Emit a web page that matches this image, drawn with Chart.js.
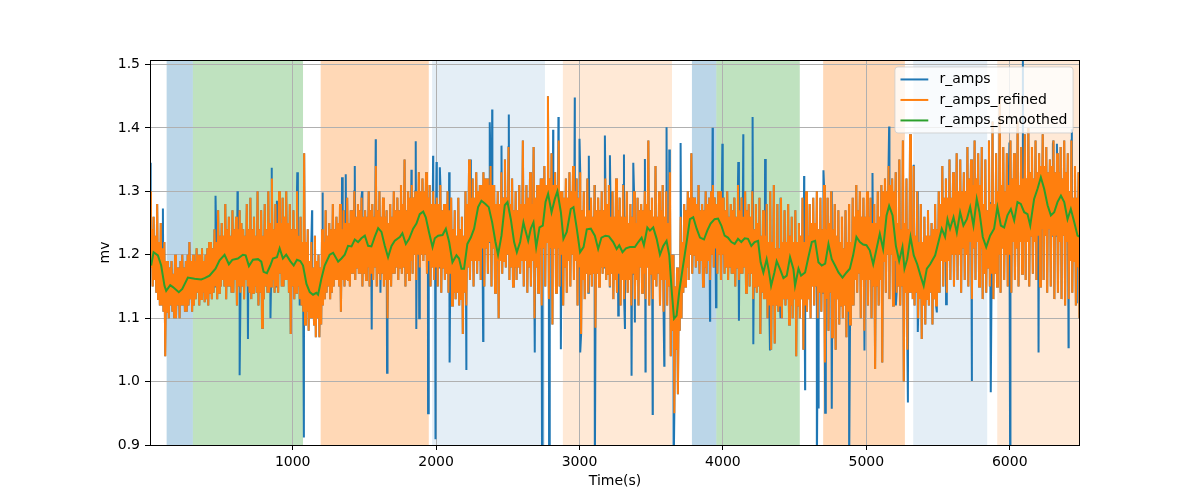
<!DOCTYPE html>
<html>
<head>
<meta charset="utf-8">
<script src="https://cdn.jsdelivr.net/npm/chart.js@4.4.0/dist/chart.umd.min.js"></script>
<style>
  html, body { margin: 0; padding: 0; background: #fff; }
</style>
</head>
<body>
<canvas id="myChart" width="1200" height="500"></canvas>
<script>
// ---- data ----
const xMin = 5, xMax = 6490;
const yMin = 0.9, yMax = 1.507;
const xTickValues = [1000, 2000, 3000, 4000, 5000, 6000];
const yTickValues = [0.9, 1.0, 1.1, 1.2, 1.3, 1.4, 1.5];

// r_amps_refined: a peak every 12.5 s starting at t=5, a trough 6.25 s after each peak
// (one row = 100 s)
const refinedStart = 5, refinedStep = 12.5;
const refinedPeaks = [
  1.30,1.24,1.26,1.23,1.28,1.22,1.25,1.21,
  1.22,1.19,1.19,1.18,1.19,1.17,1.20,1.18,
  1.18,1.19,1.20,1.18,1.19,1.20,1.22,1.19,
  1.20,1.19,1.21,1.20,1.20,1.21,1.19,1.20,
  1.21,1.22,1.22,1.21,1.24,1.22,1.27,1.23,
  1.25,1.23,1.28,1.24,1.26,1.23,1.27,1.24,
  1.26,1.24,1.27,1.25,1.24,1.23,1.28,1.24,
  1.29,1.24,1.26,1.23,1.30,1.24,1.27,1.23,
  1.28,1.24,1.30,1.25,1.32,1.24,1.28,1.25,
  1.30,1.25,1.29,1.26,1.30,1.25,1.28,1.24,
  1.27,1.24,1.30,1.23,1.26,1.22,1.36,1.22,
  1.24,1.19,1.22,1.18,1.23,1.19,1.20,1.18,
  1.24,1.22,1.27,1.23,1.25,1.24,1.28,1.24,
  1.26,1.25,1.28,1.24,1.27,1.25,1.29,1.25,
  1.27,1.27,1.30,1.26,1.28,1.27,1.29,1.26,
  1.27,1.26,1.30,1.27,1.28,1.26,1.34,1.27,
  1.30,1.26,1.29,1.26,1.27,1.25,1.28,1.26,
  1.30,1.27,1.29,1.27,1.31,1.28,1.35,1.27,
  1.30,1.29,1.31,1.29,1.30,1.30,1.33,1.30,
  1.32,1.30,1.33,1.29,1.31,1.28,1.30,1.28,
  1.29,1.28,1.31,1.27,1.28,1.28,1.30,1.27,
  1.29,1.24,1.27,1.23,1.29,1.24,1.26,1.23,
  1.30,1.28,1.35,1.29,1.32,1.29,1.33,1.30,
  1.31,1.31,1.33,1.32,1.32,1.31,1.34,1.31,
  1.31,1.28,1.30,1.28,1.33,1.29,1.35,1.29,
  1.37,1.28,1.32,1.27,1.30,1.27,1.31,1.28,
  1.38,1.28,1.31,1.29,1.33,1.28,1.37,1.29,
  1.31,1.31,1.32,1.32,1.34,1.31,1.45,1.32,
  1.36,1.31,1.33,1.31,1.38,1.30,1.30,1.29,
  1.32,1.29,1.33,1.30,1.34,1.30,1.32,1.29,
  1.33,1.27,1.30,1.26,1.32,1.27,1.29,1.26,
  1.31,1.27,1.29,1.27,1.30,1.27,1.32,1.28,
  1.31,1.26,1.30,1.26,1.32,1.27,1.29,1.26,
  1.31,1.26,1.30,1.25,1.28,1.26,1.30,1.25,
  1.29,1.27,1.28,1.27,1.30,1.28,1.38,1.27,
  1.29,1.26,1.34,1.26,1.30,1.27,1.31,1.26,
  1.30,1.25,1.33,1.20,1.20,1.15,1.18,1.16,
  1.26,1.22,1.28,1.27,1.30,1.29,1.36,1.29,
  1.29,1.28,1.31,1.27,1.28,1.27,1.30,1.28,
  1.29,1.30,1.31,1.29,1.28,1.30,1.30,1.29,
  1.29,1.27,1.30,1.26,1.28,1.27,1.29,1.26,
  1.31,1.27,1.29,1.26,1.30,1.27,1.28,1.26,
  1.30,1.24,1.28,1.25,1.29,1.23,1.27,1.23,
  1.28,1.22,1.30,1.22,1.31,1.21,1.28,1.21,
  1.29,1.22,1.27,1.22,1.28,1.23,1.26,1.22,
  1.27,1.22,1.25,1.23,1.29,1.22,1.30,1.23,
  1.28,1.25,1.29,1.25,1.30,1.24,1.29,1.24,
  1.31,1.24,1.29,1.25,1.30,1.24,1.28,1.23,
  1.27,1.22,1.26,1.21,1.27,1.22,1.28,1.22,
  1.29,1.26,1.31,1.27,1.30,1.26,1.29,1.26,
  1.30,1.26,1.29,1.25,1.28,1.25,1.30,1.26,
  1.31,1.30,1.32,1.30,1.34,1.31,1.32,1.30,
  1.33,1.25,1.35,1.24,1.38,1.25,1.32,1.24,
  1.39,1.23,1.34,1.23,1.30,1.22,1.28,1.22,
  1.26,1.23,1.27,1.23,1.25,1.24,1.28,1.24,
  1.30,1.28,1.34,1.29,1.32,1.29,1.35,1.29,
  1.33,1.30,1.36,1.30,1.35,1.30,1.33,1.30,
  1.37,1.32,1.35,1.31,1.38,1.32,1.36,1.31,
  1.37,1.28,1.35,1.27,1.38,1.28,1.41,1.28,
  1.36,1.30,1.45,1.31,1.37,1.30,1.36,1.31,
  1.38,1.32,1.36,1.32,1.41,1.31,1.37,1.32,
  1.39,1.32,1.40,1.33,1.37,1.32,1.38,1.33,
  1.36,1.34,1.39,1.34,1.37,1.33,1.35,1.34,
  1.38,1.33,1.36,1.33,1.37,1.32,1.38,1.33,
  1.36,1.30,1.38,1.29,1.34,1.29,1.33,1.28
];
const refinedTroughs = [
  1.18,1.15,1.16,1.14,1.13,1.12,1.12,1.11,
  1.04,1.11,1.10,1.12,1.11,1.10,1.10,1.12,
  1.10,1.12,1.12,1.11,1.11,1.12,1.13,1.11,
  1.12,1.13,1.14,1.12,1.13,1.14,1.125,1.13,
  1.12,1.14,1.13,1.14,1.15,1.13,1.14,1.15,
  1.16,1.15,1.13,1.15,1.15,1.14,1.14,1.16,
  1.12,1.15,1.14,1.15,1.13,1.16,1.15,1.14,
  1.13,1.14,1.15,1.14,1.12,1.14,1.085,1.13,
  1.15,1.14,1.14,1.15,1.16,1.14,1.15,1.14,
  1.17,1.15,1.15,1.16,1.16,1.14,1.075,1.15,
  1.13,1.14,1.15,1.13,1.12,1.11,1.09,1.11,
  1.08,1.10,1.10,1.09,1.07,1.10,1.07,1.09,
  1.12,1.13,1.14,1.15,1.13,1.14,1.15,1.16,
  1.16,1.15,1.11,1.16,1.15,1.16,1.16,1.15,
  1.17,1.17,1.16,1.18,1.17,1.17,1.15,1.17,
  1.16,1.18,1.15,1.17,1.16,1.18,1.15,1.17,
  1.16,1.17,1.15,1.16,1.10,1.16,1.15,1.17,
  1.17,1.18,1.16,1.18,1.17,1.18,1.15,1.17,
  1.16,1.19,1.17,1.20,1.16,1.20,1.18,1.20,
  1.19,1.20,1.17,1.19,1.15,1.18,1.16,1.18,
  1.15,1.18,1.14,1.18,1.16,1.17,1.14,1.17,
  1.12,1.14,1.13,1.14,1.12,1.13,1.075,1.14,
  1.12,1.18,1.16,1.19,1.15,1.19,1.17,1.19,
  1.16,1.21,1.15,1.21,1.17,1.22,1.15,1.21,
  1.14,1.19,1.10,1.19,1.17,1.19,1.18,1.20,
  1.16,1.18,1.15,1.18,1.16,1.18,1.17,1.19,
  1.15,1.19,1.14,1.18,1.15,1.19,1.10,1.18,
  1.14,1.21,1.12,1.21,1.15,1.22,1.13,1.21,
  1.09,1.21,1.14,1.21,1.15,1.20,1.12,1.18,
  1.14,1.19,1.15,1.20,1.16,1.19,1.12,1.18,
  1.075,1.16,1.13,1.17,1.14,1.17,1.15,1.17,
  1.085,1.17,1.15,1.18,1.17,1.18,1.16,1.17,
  1.15,1.17,1.13,1.16,1.14,1.17,1.12,1.16,
  1.13,1.16,1.14,1.16,1.12,1.17,1.13,1.16,
  1.12,1.18,1.14,1.17,1.13,1.18,1.12,1.17,
  1.13,1.16,1.15,1.17,1.12,1.16,1.11,1.16,
  1.12,1.15,1.04,1.08,0.95,1.05,0.98,1.08,
  1.10,1.14,1.15,1.18,1.16,1.20,1.17,1.20,
  1.18,1.19,1.17,1.19,1.15,1.18,1.17,1.19,
  1.16,1.20,1.18,1.21,1.17,1.20,1.16,1.20,
  1.17,1.18,1.16,1.18,1.17,1.17,1.15,1.18,
  1.16,1.17,1.17,1.18,1.14,1.17,1.15,1.17,
  1.13,1.15,1.14,1.15,1.075,1.14,1.13,1.13,
  1.10,1.12,1.05,1.12,1.06,1.12,1.11,1.12,
  1.10,1.13,1.12,1.13,1.09,1.12,1.10,1.13,
  1.04,1.12,1.10,1.13,1.05,1.12,1.11,1.13,
  1.10,1.15,1.12,1.15,1.10,1.14,1.11,1.14,
  1.03,1.13,1.08,1.14,1.07,1.13,1.05,1.13,
  1.09,1.12,1.10,1.12,1.07,1.11,1.09,1.12,
  1.12,1.16,1.14,1.17,1.10,1.16,1.08,1.16,
  1.12,1.16,1.10,1.15,1.02,1.15,1.12,1.16,
  1.03,1.19,1.14,1.20,1.13,1.20,1.12,1.19,
  1.14,1.15,1.12,1.15,1.00,1.14,1.05,1.14,
  1.14,1.13,1.12,1.14,1.10,1.13,1.067,1.12,
  1.09,1.13,1.12,1.14,1.09,1.13,1.12,1.14,
  1.14,1.19,1.15,1.19,1.14,1.19,1.16,1.20,
  1.15,1.20,1.16,1.20,1.14,1.21,1.16,1.20,
  1.15,1.22,1.13,1.21,1.16,1.22,1.15,1.21,
  1.13,1.17,1.14,1.18,1.15,1.17,1.13,1.17,
  1.15,1.20,1.14,1.21,1.16,1.20,1.15,1.20,
  1.14,1.22,1.16,1.21,1.15,1.22,1.17,1.22,
  1.16,1.22,1.15,1.23,1.17,1.22,1.16,1.23,
  1.15,1.24,1.16,1.23,1.14,1.24,1.15,1.23,
  1.13,1.23,1.14,1.22,1.13,1.23,1.12,1.22,
  1.13,1.19,1.14,1.19,1.12,1.18,1.10,1.18
];

// r_amps: same as refined, plus the outliers that refining removed
const outlierTimes = [
  8, 95, 462, 615, 630, 688, 845, 853, 890, 1032, 1049, 1078,
  1135, 1207, 1344, 1370, 1433, 1484, 1551, 1579, 1612, 1658, 1828, 1858,
  1862, 1882, 1944, 1979, 1993, 2003, 2026, 2091, 2096, 2211, 2242, 2328,
  2374, 2391, 2456, 2507, 2688, 2739, 2788, 2816, 2853, 2870, 2967, 3000,
  3005, 3065, 3107, 3177, 3212, 3270, 3310, 3317, 3363, 3375, 3386, 3456,
  3460, 3510, 3591, 3607, 3626, 3656, 3705, 3910, 3928, 3952, 3996, 4107,
  4112, 4142, 4207, 4212, 4294, 4328, 4399, 4566, 4573, 4655, 4666, 4701,
  4713, 4759, 4880, 4987, 5043, 5159, 5206, 5290, 5331, 5359, 5491, 5556,
  5736, 5747, 5863, 5868, 5998, 6003, 6091, 6201, 6301, 6329, 6410, 6433, 6464
];
const outlierValues = [
  1.345, 1.273, 1.293, 1.30, 1.01, 1.067, 1.10, 1.337, 1.285, 1.33, 1.12, 0.912,
  1.27, 1.298, 1.322, 1.327, 1.34, 1.30, 1.082, 1.382, 1.14, 1.014, 1.334, 1.379,
  1.083, 1.10, 0.95, 1.356, 0.909, 1.346, 1.338, 1.33, 1.03, 1.02, 1.35, 1.064,
  1.409, 1.429, 1.372, 1.421, 1.046, 0.85, 0.85, 1.397, 1.417, 1.051, 1.448, 1.383,
  1.046, 1.356, 0.85, 1.388, 1.357, 1.104, 1.358, 1.083, 1.009, 1.345, 1.093, 1.351,
  1.016, 0.949, 1.025, 1.401, 1.366, 0.85, 1.376, 1.096, 1.40, 1.117, 1.375, 1.346,
  1.096, 1.39, 1.417, 1.059, 1.351, 1.049, 1.10, 1.324, 0.988, 0.85, 0.959, 1.333,
  0.951, 0.957, 0.85, 1.049, 1.329, 1.402, 1.12, 0.967, 1.342, 1.078, 1.109, 1.122,
  1.001, 1.293, 1.283, 0.983, 1.377, 0.85, 1.55, 1.046, 1.375, 1.375, 1.054, 1.398, 1.125
];

// r_amps_smoothed
const smoothTimes = [
  13, 30, 60, 83, 106, 118, 146, 165, 206, 230, 269, 316, 362, 386, 420, 462, 490, 525, 555, 579,
  618, 653, 672, 695, 723, 758, 781, 797, 820, 844, 862, 890, 909, 932, 955, 983, 1007, 1030, 1053,
  1072, 1096, 1119, 1142, 1165, 1177, 1200, 1223, 1258, 1282, 1317, 1340, 1363, 1386, 1410, 1433,
  1456, 1479, 1503, 1526, 1549, 1572, 1596, 1619, 1642, 1665, 1689, 1712, 1747, 1765, 1789, 1812,
  1840, 1863, 1886, 1910, 1928, 1951, 1975, 1991, 2014, 2045, 2068, 2091, 2114,
  2142, 2160, 2177, 2195, 2218, 2242, 2265, 2293, 2316, 2344, 2367, 2391, 2414, 2432, 2456, 2479,
  2498, 2521, 2544, 2563, 2586, 2609, 2623, 2642, 2660, 2679, 2698, 2721, 2744, 2763, 2781, 2805,
  2828, 2846, 2870, 2888, 2911, 2939, 2958, 2981, 3004, 3028, 3051, 3079, 3107, 3130, 3153, 3181, 3205,
  3235, 3259, 3277, 3300, 3324, 3352, 3386, 3410, 3433, 3449, 3473, 3491, 3514, 3538, 3561, 3584,
  3607, 3626, 3642, 3659, 3677, 3696, 3719, 3747, 3770, 3793, 3817, 3840, 3868, 3891, 3914, 3942,
  3966, 3989, 4012, 4035, 4059, 4082, 4105, 4128, 4152, 4175, 4198, 4221, 4245, 4263, 4282,
  4305, 4320, 4336, 4359, 4375, 4399, 4422, 4445, 4468, 4492, 4503, 4527, 4545, 4573, 4596, 4620,
  4643, 4666, 4689, 4713, 4736, 4759, 4782, 4806, 4834, 4862, 4885, 4908, 4931, 4955, 4978, 5001,
  5024, 5048, 5071, 5094, 5117, 5141, 5159, 5183, 5206, 5229, 5252, 5266, 5285, 5308, 5331, 5355,
  5378, 5400, 5422, 5445, 5480, 5503, 5526, 5549, 5566, 5584, 5608, 5631, 5654, 5677, 5701, 5724,
  5747, 5770, 5789, 5812, 5836, 5863, 5891, 5914, 5938, 5961, 5984, 6008, 6031, 6054, 6077, 6101,
  6124, 6143, 6170, 6194, 6217, 6240, 6264, 6287, 6310, 6333, 6357, 6380, 6403, 6426, 6450, 6473, 6490
];
const smoothValues = [
  1.183, 1.204, 1.199, 1.183, 1.151, 1.143, 1.152, 1.149, 1.141, 1.146, 1.164, 1.162, 1.161, 1.163, 1.167, 1.178, 1.191, 1.200, 1.185, 1.192,
  1.194, 1.200, 1.199, 1.182, 1.192, 1.193, 1.189, 1.173, 1.171, 1.183, 1.194, 1.196, 1.210, 1.194, 1.200, 1.190, 1.183, 1.192, 1.190,
  1.183, 1.154, 1.141, 1.137, 1.140, 1.137, 1.162, 1.183, 1.200, 1.203, 1.189, 1.194, 1.200, 1.214, 1.213, 1.224,
  1.220, 1.226, 1.230, 1.214, 1.213, 1.228, 1.242, 1.236, 1.214, 1.196, 1.214, 1.222, 1.228, 1.234, 1.217, 1.225,
  1.241, 1.249, 1.264, 1.268, 1.259, 1.235, 1.212, 1.226, 1.230, 1.231, 1.241, 1.220, 1.188,
  1.199, 1.194, 1.178, 1.178, 1.217, 1.227, 1.241, 1.275, 1.285, 1.280, 1.275, 1.251, 1.220, 1.200, 1.230, 1.278,
  1.283, 1.256, 1.220, 1.204, 1.220, 1.251, 1.238, 1.222, 1.241, 1.251, 1.212, 1.243, 1.246, 1.283, 1.296, 1.267,
  1.288, 1.300, 1.267, 1.225, 1.236, 1.272, 1.275, 1.241, 1.204, 1.212, 1.240, 1.241, 1.230, 1.209, 1.227, 1.230, 1.229,
  1.220, 1.209, 1.215, 1.204, 1.210, 1.212, 1.212, 1.220, 1.227, 1.215, 1.243, 1.238, 1.243, 1.225, 1.200, 1.214,
  1.222, 1.199, 1.146, 1.099, 1.104, 1.143, 1.178, 1.220, 1.256, 1.259, 1.241, 1.227, 1.224, 1.238, 1.249, 1.256,
  1.257, 1.246, 1.230, 1.227, 1.220, 1.217, 1.225, 1.220, 1.226, 1.225, 1.214, 1.220, 1.222, 1.188, 1.172,
  1.193, 1.175, 1.151, 1.172, 1.190, 1.177, 1.163, 1.167, 1.196, 1.177, 1.151, 1.178, 1.167, 1.172, 1.196, 1.220,
  1.222, 1.188, 1.183, 1.186, 1.217, 1.193, 1.183, 1.172, 1.164, 1.172, 1.178, 1.199, 1.228, 1.220, 1.216, 1.215,
  1.207, 1.185, 1.209, 1.233, 1.209, 1.262, 1.277, 1.262, 1.214, 1.190, 1.212, 1.178, 1.193, 1.228, 1.199, 1.185,
  1.167, 1.151, 1.178, 1.185, 1.199, 1.220, 1.241, 1.228, 1.256, 1.241, 1.259, 1.235, 1.267, 1.246, 1.256, 1.275,
  1.246, 1.288, 1.267, 1.228, 1.212, 1.230, 1.241, 1.275, 1.246, 1.243, 1.262, 1.272, 1.254, 1.283, 1.280, 1.267,
  1.264, 1.246, 1.288, 1.304, 1.322, 1.304, 1.278, 1.262, 1.267, 1.283, 1.293, 1.283, 1.256, 1.272, 1.251, 1.230, 1.228
];

// shaded time windows
const spanStarts = [121, 304, 1195, 1972, 2884, 3784, 3954, 4699, 5327, 5913];
const spanEnds   = [304, 1072, 1949, 2759, 3645, 3954, 4536, 5269, 5843, 6490];
const spanColors = [
  'rgba(31,119,180,0.3)', 'rgba(44,160,44,0.3)', 'rgba(255,127,14,0.3)',
  'rgba(31,119,180,0.12)', 'rgba(255,127,14,0.17)',
  'rgba(31,119,180,0.3)', 'rgba(44,160,44,0.3)', 'rgba(255,127,14,0.3)',
  'rgba(31,119,180,0.12)', 'rgba(255,127,14,0.17)'
];

const seriesNames = ['r_amps', 'r_amps_refined', 'r_amps_smoothed'];
const seriesColors = ['#1f77b4', '#ff7f0e', '#2ca02c'];

// ---- build point lists ----
const refinedPoints = [];
for (let i = 0; i < refinedPeaks.length; i++) {
  const t = refinedStart + i * refinedStep;
  refinedPoints.push({x: t, y: refinedPeaks[i]});
  refinedPoints.push({x: t + refinedStep / 2, y: refinedTroughs[i]});
}
const rawPoints = refinedPoints.map(p => ({x: p.x, y: p.y})).concat(
  outlierTimes.map((t, i) => ({x: t, y: outlierValues[i]}))
).sort((a, b) => a.x - b.x);
const smoothPoints = smoothTimes.map((t, i) => ({x: t, y: smoothValues[i]}));

Chart.defaults.font.family = "'DejaVu Sans', sans-serif";
Chart.defaults.font.size = 14;
Chart.defaults.color = '#000';

const spanPlugin = {
  id: 'spans',
  beforeDraw(chart) {
    const {ctx, chartArea, scales: {x}} = chart;
    ctx.save();
    ctx.beginPath();
    ctx.rect(chartArea.left, chartArea.top, chartArea.width, chartArea.height);
    ctx.clip();
    for (let i = 0; i < spanStarts.length; i++) {
      const a = x.getPixelForValue(spanStarts[i]);
      const b = x.getPixelForValue(spanEnds[i]);
      ctx.fillStyle = spanColors[i];
      ctx.fillRect(a, chartArea.top, b - a, chartArea.height);
    }
    ctx.restore();
  }
};

// axes frame and matplotlib-like legend box
const framePlugin = {
  id: 'frame',
  afterDraw(chart) {
    const {ctx, chartArea: ca} = chart;
    ctx.save();
    ctx.strokeStyle = '#000';
    ctx.lineWidth = 1;
    ctx.strokeRect(Math.round(ca.left) + 0.5, Math.round(ca.top) + 0.5,
                   Math.round(ca.width) - 1, Math.round(ca.height));

    ctx.font = "14px 'DejaVu Sans', sans-serif";
    const textW = Math.max(...seriesNames.map(s => ctx.measureText(s).width));
    const fs = 13.9;
    const w = 0.4 * fs + 2 * fs + 0.8 * fs + textW + 0.4 * fs;
    const h = 66;
    const right = ca.right - 0.5 * fs, top = ca.top + 0.5 * fs;
    const left = right - w;
    ctx.beginPath();
    ctx.roundRect(left, top, w, h, 3);
    ctx.fillStyle = 'rgba(255,255,255,0.8)';
    ctx.fill();
    ctx.strokeStyle = 'rgba(204,204,204,0.8)';
    ctx.stroke();
    seriesNames.forEach((name, i) => {
      const cy = top + 12.5 + i * 20.5;
      ctx.strokeStyle = seriesColors[i];
      ctx.lineWidth = 2;
      ctx.beginPath();
      ctx.moveTo(left + 0.4 * fs, cy);
      ctx.lineTo(left + 2.4 * fs, cy);
      ctx.stroke();
      ctx.fillStyle = '#000';
      ctx.textBaseline = 'middle';
      ctx.fillText(name, left + 3.2 * fs, cy);
    });
    ctx.restore();
  }
};

const lineDefaults = {pointRadius: 0, borderWidth: 2, tension: 0, fill: false, clip: 0};

const ctx = document.getElementById('myChart').getContext('2d');
const myChart = new Chart(ctx, {
  type: 'line',
  data: {
    datasets: [
      // higher order is drawn first, so blue sits under orange, green on top
      Object.assign({label: seriesNames[0], data: rawPoints, borderColor: seriesColors[0], order: 3}, lineDefaults),
      Object.assign({label: seriesNames[1], data: refinedPoints, borderColor: seriesColors[1], order: 2}, lineDefaults),
      Object.assign({label: seriesNames[2], data: smoothPoints, borderColor: seriesColors[2], order: 1}, lineDefaults)
    ]
  },
  options: {
    responsive: false,
    animation: false,
    events: [],
    layout: {padding: {left: 90, right: 120, top: 60, bottom: 10}},
    plugins: {legend: {display: false}, tooltip: {enabled: false}},
    scales: {
      x: {
        type: 'linear', min: xMin, max: xMax,
        afterBuildTicks: s => { s.ticks = xTickValues.map(v => ({value: v})); },
        afterFit: s => { s.height = 45; },
        ticks: {padding: 4, maxRotation: 0, callback: v => String(v)},
        grid: {color: '#b0b0b0', lineWidth: 1, tickLength: 5, tickColor: '#000'},
        border: {display: false},
        title: {display: true, text: 'Time(s)', padding: {top: 0, bottom: 0}}
      },
      y: {
        type: 'linear', min: yMin, max: yMax,
        afterBuildTicks: s => { s.ticks = yTickValues.map(v => ({value: v})); },
        afterFit: s => { s.width = 60; },
        ticks: {padding: 5, callback: v => v.toFixed(1)},
        grid: {color: '#b0b0b0', lineWidth: 1, tickLength: 5, tickColor: '#000'},
        border: {display: false},
        title: {display: true, text: 'mv', padding: {top: 7, bottom: 0}}
      }
    }
  },
  plugins: [spanPlugin, framePlugin]
});
</script>
</body>
</html>
